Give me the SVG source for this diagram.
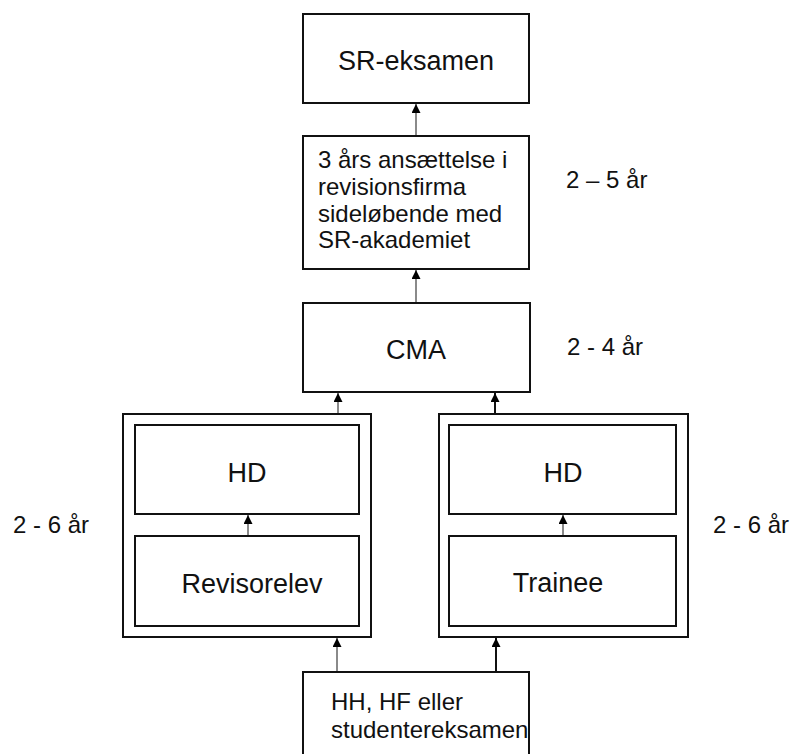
<svg xmlns="http://www.w3.org/2000/svg" width="806" height="754" viewBox="0 0 806 754">
<defs>
<marker id="ah" viewBox="0 0 10 10" refX="10" refY="5" markerWidth="10" markerHeight="9" markerUnits="userSpaceOnUse" orient="auto"><path d="M0,0 L10,5 L0,10 z" fill="#000"/></marker>
<style>
.box{fill:#fff;stroke:#111;stroke-width:2}
.t{font-family:"Liberation Sans",Arial,sans-serif;fill:#111}
.big{font-size:27px;text-anchor:middle}
.mid{font-size:24px}
.g{stroke:#8a8a8a;stroke-width:2;fill:none;marker-end:url(#ah)}
.k{stroke:#111;stroke-width:2;fill:none;marker-end:url(#ah)}
</style>
</defs>
<rect width="806" height="754" fill="#fff"/>
<g id="sr">
<rect class="box" x="303" y="14" width="226" height="89"/>
<text class="t big" x="416" y="70">SR-eksamen</text>
</g>
<g id="ansaettelse">
<rect class="box" x="303" y="136" width="226" height="133"/>
<text class="t mid" x="318" y="168">3 års ansættelse i</text>
<text class="t mid" x="318" y="195">revisionsfirma</text>
<text class="t mid" x="318" y="221.5">sideløbende med</text>
<text class="t mid" x="318" y="248">SR-akademiet</text>
</g>
<g id="cma">
<rect class="box" x="303" y="303" width="227" height="89"/>
<text class="t big" x="416" y="359">CMA</text>
</g>
<g id="left-group">
<rect class="box" x="123" y="414" width="248" height="223"/>
</g>
<g id="hd-left">
<rect class="box" x="135" y="425" width="224" height="89"/>
<text class="t big" x="247" y="482">HD</text>
</g>
<g id="revisorelev">
<rect class="box" x="135" y="536" width="224" height="90"/>
<text class="t big" x="252" y="593">Revisorelev</text>
</g>
<g id="right-group">
<rect class="box" x="439" y="414" width="249" height="223"/>
</g>
<g id="hd-right">
<rect class="box" x="449" y="425" width="227" height="89"/>
<text class="t big" x="563" y="482">HD</text>
</g>
<g id="trainee">
<rect class="box" x="449" y="536" width="227" height="90"/>
<text class="t big" x="558" y="592">Trainee</text>
</g>
<g id="start">
<path d="M303,756 V672 H529 V756" fill="#fff" stroke="#111" stroke-width="2"/>
<text class="t mid" x="331" y="710">HH, HF eller</text>
<text class="t mid" x="331" y="738">studentereksamen</text>
</g>
<g id="labels">
<text class="t mid" x="566" y="188">2 – 5 år</text>
<text class="t mid" x="567" y="355">2 - 4 år</text>
<text class="t mid" x="13" y="533">2 - 6 år</text>
<text class="t mid" x="713" y="533">2 - 6 år</text>
</g>
<g id="connectors">
<line class="g" x1="416" y1="135" x2="416" y2="104"/>
<line class="g" x1="416" y1="302" x2="416" y2="270"/>
<line class="g" x1="338" y1="413" x2="338" y2="393"/>
<line class="k" x1="495" y1="413" x2="495" y2="393"/>
<line class="g" x1="248" y1="535" x2="248" y2="515"/>
<line class="g" x1="563" y1="535" x2="563" y2="515"/>
<line class="g" x1="337" y1="671" x2="337" y2="638"/>
<line class="k" x1="496" y1="671" x2="496" y2="638"/>
</g>
</svg>
